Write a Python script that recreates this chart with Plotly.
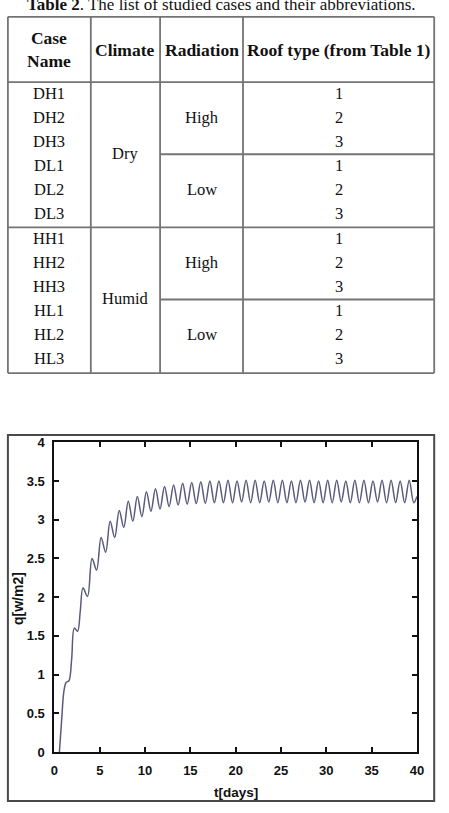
import plotly.graph_objects as go

# ---------------- data ----------------
caption_label = "Table 2"
caption_text = ". The list of studied cases and their abbreviations."
header_labels = ["Case<br>Name", "Climate", "Radiation", "Roof type (from Table 1)"]
case_names = ["DH1", "DH2", "DH3", "DL1", "DL2", "DL3",
              "HH1", "HH2", "HH3", "HL1", "HL2", "HL3"]
climates = ["Dry", "Humid"]
radiations = ["High", "Low", "High", "Low"]
roof_types = ["1", "2", "3", "1", "2", "3", "1", "2", "3", "1", "2", "3"]

t_days = [0.55, 0.8, 1.05, 1.3, 1.6, 1.9, 2.2, 2.55, 2.85,
          3.15, 3.65, 4.15, 4.65, 5.15, 5.65, 6.15, 6.65, 7.15, 7.65,
          8.15, 8.65, 9.15, 9.65, 10.15, 10.65, 11.15, 11.65, 12.15, 12.65,
          13.15, 13.65, 14.15, 14.65, 15.15, 15.65, 16.15, 16.65, 17.15, 17.65,
          18.15, 18.65, 19.15, 19.65, 20.15, 20.65, 21.15, 21.65, 22.15, 22.65,
          23.15, 23.65, 24.15, 24.65, 25.15, 25.65, 26.15, 26.65, 27.15, 27.65,
          28.15, 28.65, 29.15, 29.65, 30.15, 30.65, 31.15, 31.65, 32.15, 32.65,
          33.15, 33.65, 34.15, 34.65, 35.15, 35.65, 36.15, 36.65, 37.15, 37.65,
          38.15, 38.65, 39.15, 39.65, 40.0]
q_flux = [0.0, 0.42, 0.79, 0.9, 0.92, 1.2, 1.6, 1.56, 1.82,
          2.12, 2.01, 2.50, 2.35, 2.77, 2.58, 2.98, 2.77, 3.12, 2.90,
          3.24, 2.98, 3.30, 3.04, 3.36, 3.11, 3.40, 3.14, 3.43, 3.17,
          3.45, 3.19, 3.47, 3.20, 3.48, 3.21, 3.49, 3.21, 3.50, 3.22,
          3.50, 3.22, 3.51, 3.22, 3.50, 3.23, 3.51, 3.22, 3.51, 3.22,
          3.50, 3.23, 3.51, 3.22, 3.51, 3.22, 3.50, 3.22, 3.51, 3.23,
          3.51, 3.22, 3.50, 3.22, 3.51, 3.22, 3.51, 3.23, 3.50, 3.22,
          3.51, 3.22, 3.51, 3.22, 3.50, 3.23, 3.51, 3.22, 3.51, 3.22,
          3.50, 3.22, 3.51, 3.22, 3.30]

x_ticks = [0, 5, 10, 15, 20, 25, 30, 35, 40]
y_ticks = [0, 0.5, 1, 1.5, 2, 2.5, 3, 3.5, 4]
y_tick_labels = ["0", "0.5", "1", "1.5", "2", "2.5", "3", "3.5", "4"]
x_title = "t[days]"
y_title = "q[w/m2]"

# ---------------- geometry helpers ----------------
W, H = 449, 813


def px(x):
    return x / W


def py(y):
    return 1 - y / H


serif = "Liberation Serif"
sans = "Liberation Sans"
grid_col = "#747474"

shapes = []
annotations = []

# ---------------- table ----------------
col_edges = [4, 89, 160, 245, 441]
col_centers = [(col_edges[i] + col_edges[i + 1]) / 2 for i in range(4)]
table_top, header_bottom = 10, 76.5
group_tops = [76.5, 224.5]
row_h = 24.5
table_bottom = 373


def hline(x0, x1, y):
    shapes.append(dict(type="line", xref="paper", yref="paper",
                       x0=px(x0), x1=px(x1), y0=py(y), y1=py(y),
                       line=dict(color=grid_col, width=1.8)))


def vline(x, y0, y1):
    shapes.append(dict(type="line", xref="paper", yref="paper",
                       x0=px(x), x1=px(x), y0=py(y0), y1=py(y1),
                       line=dict(color=grid_col, width=1.8)))


for y in [table_top, header_bottom, group_tops[1], table_bottom]:
    hline(col_edges[0], col_edges[-1], y)
for g in group_tops:
    hline(col_edges[2], col_edges[-1], g + 3 * row_h)
for x in col_edges:
    vline(x, table_top, table_bottom)


def text(x, y, s, size=16.5, bold=False, family=serif, yanchor="middle"):
    annotations.append(dict(xref="paper", yref="paper", x=px(x), y=py(y),
                            text=s, showarrow=False, xanchor="center",
                            yanchor=yanchor,
                            font=dict(family=family, size=size, color="#111",
                                      weight="bold" if bold else "normal")))


# caption (partly cut by the top edge, as in the source page)
text(223, 9, "<b>" + caption_label + "</b>" + caption_text, size=17, yanchor="bottom")

# header
for i, h in enumerate(header_labels):
    text(col_centers[i], (table_top + header_bottom) / 2 + 0.5, h, size=17.5, bold=True)

# body
for gi, g in enumerate(group_tops):
    for r in range(6):
        idx = gi * 6 + r
        yc = g + 11.2 + r * row_h
        text(col_centers[0], yc, case_names[idx])
        text(col_centers[3], yc, roof_types[idx])
    text(col_centers[1], g + 11.2 + 2.5 * row_h, climates[gi])
    for sub in range(2):
        text(col_centers[2], g + 11.2 + (sub * 3 + 1) * row_h, radiations[gi * 2 + sub])

# ---------------- chart ----------------
# outer frame
shapes.append(dict(type="rect", xref="paper", yref="paper",
                   x0=px(4), x1=px(441), y0=py(436), y1=py(809),
                   line=dict(color="#4a4a4a", width=2)))

plot_left, plot_right = 51.7, 423.3
plot_top, plot_bottom = 443.5, 759

fig = go.Figure()
fig.add_trace(go.Scatter(x=t_days, y=q_flux, mode="lines",
                         line=dict(color="#5a5a7c", width=1.5, shape="spline",
                                   smoothing=1.0),
                         showlegend=False, hoverinfo="skip"))

tick_font = dict(family=sans, size=13, color="#111", weight="bold")
fig.update_layout(
    width=W, height=H,
    margin=dict(l=0, r=0, t=0, b=0),
    paper_bgcolor="white", plot_bgcolor="white",
    xaxis=dict(domain=[px(plot_left), px(plot_right)], range=[0, 40],
               tickvals=x_ticks, ticks="inside", ticklen=5, tickwidth=2,
               tickcolor="#111", showline=True, linecolor="#111", linewidth=2,
               mirror="allticks", showgrid=False, zeroline=False,
               tickfont=tick_font, ticklabelstandoff=5),
    yaxis=dict(domain=[py(plot_bottom), py(plot_top)], range=[0, 4],
               tickvals=y_ticks, ticktext=y_tick_labels, ticks="inside",
               ticklen=5, tickwidth=2, tickcolor="#111", showline=True,
               linecolor="#111", linewidth=2, mirror="allticks",
               showgrid=False, zeroline=False, tickfont=tick_font,
               ticklabelstandoff=5),
    shapes=shapes,
)

for a in annotations:
    fig.add_annotation(**a)

fig.add_annotation(xref="paper", yref="paper", x=px(238), y=py(800),
                   text=x_title, showarrow=False, xanchor="center", yanchor="middle",
                   font=dict(family=sans, size=13.5, color="#111", weight="bold"))
fig.add_annotation(xref="paper", yref="paper", x=px(14.5), y=py(603),
                   text=y_title, showarrow=False, xanchor="center", yanchor="middle",
                   textangle=-90,
                   font=dict(family=sans, size=14, color="#111", weight="bold"))

fig.write_html("out.html")
